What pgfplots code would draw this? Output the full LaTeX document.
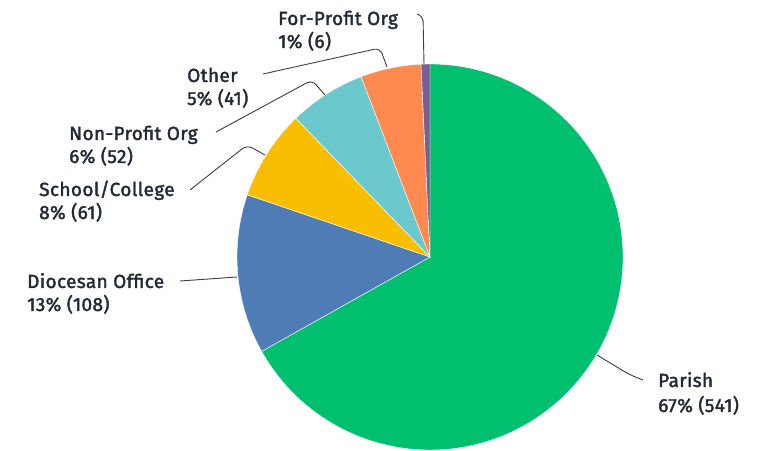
\documentclass[border=0pt]{standalone}
\usepackage{fontspec}
\setmainfont{Fira Sans}
\newfontfamily\lbl{Fira Sans}[FakeBold=2, LetterSpace=2]
\usepackage{pgfplots}
\pgfplotsset{compat=1.18}
\definecolor{cParish}{RGB}{0,191,111}
\definecolor{cDio}{RGB}{80,124,182}
\definecolor{cSchool}{RGB}{249,190,0}
\definecolor{cNonp}{RGB}{107,200,205}
\definecolor{cOther}{RGB}{255,138,79}
\definecolor{cFor}{RGB}{125,93,150}
\definecolor{txt}{RGB}{35,42,54}
\definecolor{lead}{RGB}{60,60,60}

\begin{document}
\begin{tikzpicture}[
  plbl/.style={anchor=base west, inner sep=0pt, text=txt,
    font=\lbl\fontsize{19bp}{23bp}\selectfont},
  ldr/.style={lead, line width=0.9bp, rounded corners=6bp},
]
\begin{axis}[
  width=776bp, height=450bp, scale only axis,
  xmin=0, xmax=776, ymin=0, ymax=450,
  hide axis, clip=false,
]
% keep the full frame as bounding box
\path (axis cs:0,0) rectangle (axis cs:776,450);
% slices: count / colour, clockwise from 12 o'clock
\pgfplotsextra{
  \def\total{809}
  \gdef\cum{0}
  \foreach \v/\c in {541/cParish,108/cDio,61/cSchool,52/cNonp,41/cOther,6/cFor}{
    \pgfmathsetmacro\a{90-\cum/\total*360}
    \pgfmathsetmacro\b{90-(\cum+\v)/\total*360}
    \fill[\c, draw=white, line width=0.4bp] (axis cs:430,193) -- +(\a:193bp)
      arc[start angle=\a, end angle=\b, radius=193bp] -- cycle;
    \pgfmathsetmacro\n{\cum+\v}
    \xdef\cum{\n}
  }
}

% leader lines
\draw[ldr, rounded corners=5bp]
  (axis cs:417,436) -- (axis cs:423,434) -- (axis cs:424,386);
\draw[ldr] (axis cs:263,376) -- (axis cs:380,402) -- (axis cs:387,383);
\draw[ldr] (axis cs:216,318) -- (axis cs:312,370) -- (axis cs:325,355);
\draw[ldr] (axis cs:190,260) -- (axis cs:247,305) -- (axis cs:265,295);
\draw[ldr] (axis cs:180,169) -- (axis cs:237,173);
\draw[ldr, rounded corners=8bp]
  (axis cs:597,95) -- (axis cs:630,75) -- (axis cs:643,70);

% labels
\node[plbl] at (axis cs:278,425) {For-Profit Org};
\node[plbl] at (axis cs:278,402) {1\% (6)};
\node[plbl] at (axis cs:187,368) {Other};
\node[plbl] at (axis cs:187,345) {5\% (41)};
\node[plbl] at (axis cs:69,310) {Non-Profit Org};
\node[plbl] at (axis cs:69,287) {6\% (52)};
\node[plbl] at (axis cs:39,254) {School/College};
\node[plbl] at (axis cs:39,231) {8\% (61)};
\node[plbl] at (axis cs:27,162) {Diocesan Office};
\node[plbl] at (axis cs:27,139) {13\% (108)};
\node[plbl] at (axis cs:658,63) {Parish};
\node[plbl] at (axis cs:658,38) {67\% (541)};
\end{axis}
\end{tikzpicture}
\end{document}
